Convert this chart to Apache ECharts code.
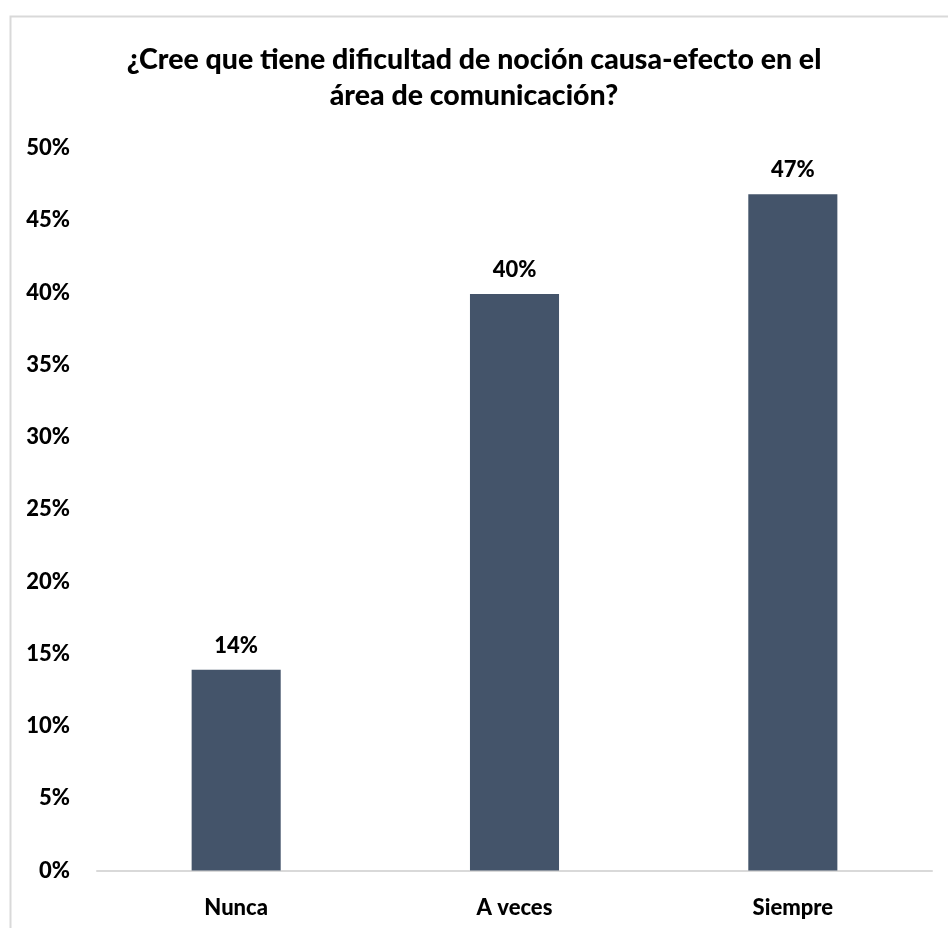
<!DOCTYPE html>
<html>
<head>
<meta charset="utf-8">
<script src="https://cdn.jsdelivr.net/npm/echarts@6/dist/echarts.min.js"></script>
<style>html,body{margin:0;padding:0;background:#fff}#c{width:948px;height:928px}</style>
</head>
<body>
<div id="c"></div>
<script>
const titleText = '¿Cree que tiene dificultad de noción causa-efecto en el\nárea de comunicación?';
const categories = ['Nunca', 'A veces', 'Siempre'];
const values = [13.9, 39.9, 46.8];
const labels = ['14%', '40%', '47%'];
const yTicks = [0, 5, 10, 15, 20, 25, 30, 35, 40, 45, 50];

const FONT = 'Lato';
const chart = echarts.init(document.getElementById('c'));
chart.setOption({
  animation: false,
  graphic: [{
    type: 'rect', left: 8, top: 14, shape: { width: 1000, height: 1000 },
    style: { fill: 'none', stroke: '#D9D9D9', lineWidth: 2 }, z: -1
  }],
  title: {
    text: titleText, left: 'center', top: 37,
    textStyle: { fontFamily: FONT, fontWeight: 900, fontSize: 28.5, lineHeight: 36, color: '#000' }
  },
  grid: { left: 97, right: 16, top: 148, bottom: 57.5 },
  xAxis: {
    type: 'category', data: categories,
    axisLine: { lineStyle: { color: '#D9D9D9', width: 2 } },
    axisTick: { show: false },
    axisLabel: { fontFamily: FONT, fontWeight: 900, fontSize: 22, color: '#000', margin: 26 }
  },
  yAxis: {
    type: 'value', min: 0, max: 50, interval: 5,
    axisLine: { show: false }, axisTick: { show: false }, splitLine: { show: false },
    axisLabel: { fontFamily: FONT, fontWeight: 900, fontSize: 22, color: '#000', margin: 27,
      formatter: v => yTicks.includes(v) ? v + '%' : '' }
  },
  series: [{
    type: 'bar', data: values, barWidth: '32%',
    itemStyle: { color: '#44546A' },
    label: { show: true, position: 'top', distance: 13, fontFamily: FONT, fontWeight: 900, fontSize: 22, color: '#000',
      formatter: p => labels[p.dataIndex] }
  }]
});
</script>
</body>
</html>
